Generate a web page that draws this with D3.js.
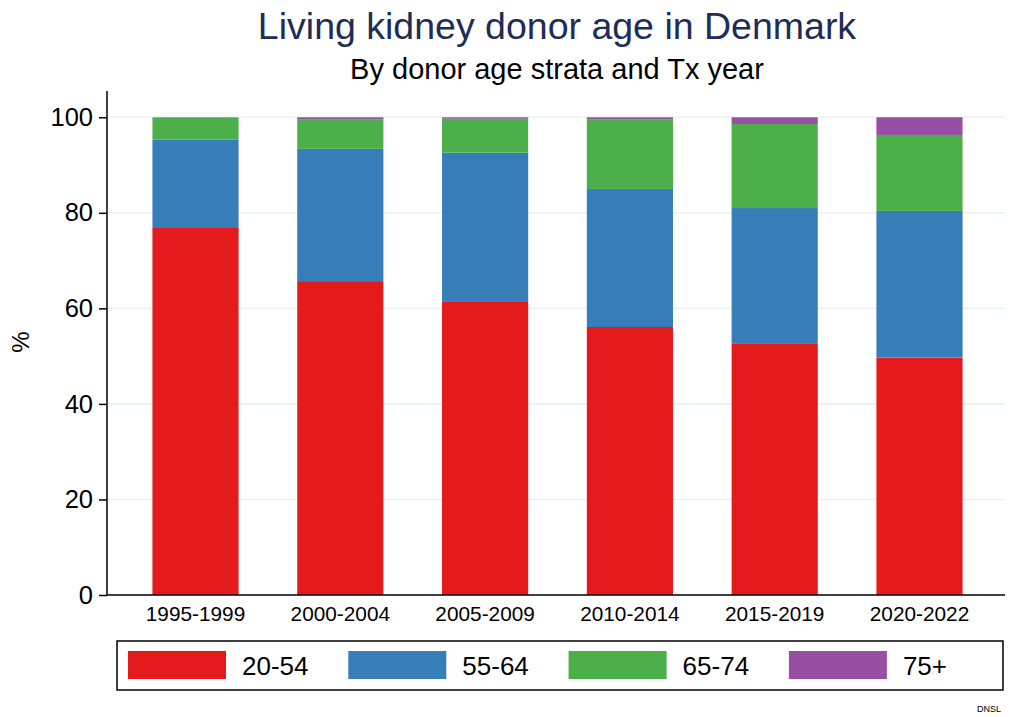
<!DOCTYPE html>
<html><head><meta charset="utf-8">
<script src="https://cdn.jsdelivr.net/npm/d3@7"></script>
<style>body{margin:0;background:#fff}svg{display:block;font-family:"Liberation Sans",Arial,sans-serif}</style>
</head><body><svg id="c" width="1010" height="717"></svg>
<script>
const periods = ["1995-1999","2000-2004","2005-2009","2010-2014","2015-2019","2020-2022"];
const strata = ["20-54","55-64","65-74","75+"];
const age20_54 = [77.0, 65.7, 61.5, 56.1, 52.7, 49.7];
const age55_64 = [18.3, 27.7, 31.1, 28.9, 28.3, 30.7];
const age65_74 = [4.7, 6.1, 7.1, 14.6, 17.6, 15.9];
const age75p   = [0.0, 0.5, 0.3, 0.4, 1.4, 3.7];
const yTicks = [0,20,40,60,80,100];
const colors = ["#E41A1C","#377EB8","#4DAF4A","#984EA3"];

const svg = d3.select("#c");
const pL=107, pR=1005, pT=91, pB=595;
const x = d3.scaleBand().domain(periods).range([109,1006]).paddingInner(0.405).paddingOuter(0.3);
const y = d3.scaleLinear().domain([0,105.5]).range([pB,pT]);

// gridlines
svg.append("g").selectAll("line").data(yTicks.filter(d=>d>0)).join("line")
  .attr("x1",pL).attr("x2",pR).attr("y1",d=>y(d)).attr("y2",d=>y(d))
  .attr("stroke","#eaf2f3").attr("stroke-width",1.6);

const rows = periods.map((p,i)=>({period:p,"20-54":age20_54[i],"55-64":age55_64[i],"65-74":age65_74[i],"75+":age75p[i]}));
const stack = d3.stack().keys(strata)(rows);
svg.append("g").selectAll("g").data(stack).join("g").attr("fill",(d,i)=>colors[i])
  .selectAll("rect").data(d=>d).join("rect")
  .attr("x",d=>x(d.data.period)).attr("width",x.bandwidth())
  .attr("y",d=>y(d[1])).attr("height",d=>Math.max(0,y(d[0])-y(d[1])));

// y axis
const ya = svg.append("g").attr("transform",`translate(${pL},0)`)
  .call(d3.axisLeft(y).tickValues(yTicks).tickSize(8).tickPadding(6));
ya.select(".domain").attr("d",`M0,${pT}V${pB}`).attr("stroke","#000").attr("stroke-width",1.5);
ya.selectAll(".tick line").attr("stroke","#000").attr("stroke-width",1.5);
ya.selectAll(".tick text").attr("font-size",25.5).attr("fill","#000").attr("font-family","Liberation Sans, Arial, sans-serif");

// x axis
const xa = svg.append("g").attr("transform",`translate(0,${pB})`)
  .call(d3.axisBottom(x).tickSize(0).tickPadding(11));
xa.select(".domain").attr("d",`M${pL},0H${pR}`).attr("stroke","#000").attr("stroke-width",1.5);
xa.selectAll(".tick text").attr("font-size",20.8).attr("fill","#000").attr("font-family","Liberation Sans, Arial, sans-serif");

// y label
svg.append("text").attr("transform","translate(29,342) rotate(-90)").attr("text-anchor","middle")
  .attr("font-size",24).text("%");

// titles
svg.append("text").attr("x",557).attr("y",38.5).attr("text-anchor","middle").attr("font-size",37.5)
  .attr("fill","#1e2d57").text("Living kidney donor age in Denmark");
svg.append("text").attr("x",557).attr("y",79).attr("text-anchor","middle").attr("font-size",29)
  .attr("fill","#000").text("By donor age strata and Tx year");

// legend
svg.append("rect").attr("x",117).attr("y",641).attr("width",886).attr("height",49)
  .attr("fill","#fff").attr("stroke","#000").attr("stroke-width",1.5);
const lg = svg.append("g").selectAll("g").data(strata).join("g")
  .attr("transform",(d,i)=>`translate(${128+i*220.3},651)`);
lg.append("rect").attr("width",98).attr("height",28).attr("fill",(d,i)=>colors[i]);
lg.append("text").attr("x",114).attr("y",24).attr("font-size",26).text(d=>d);

svg.append("text").attr("x",1001).attr("y",712).attr("text-anchor","end").attr("font-size",9).text("DNSL");
</script></body></html>
